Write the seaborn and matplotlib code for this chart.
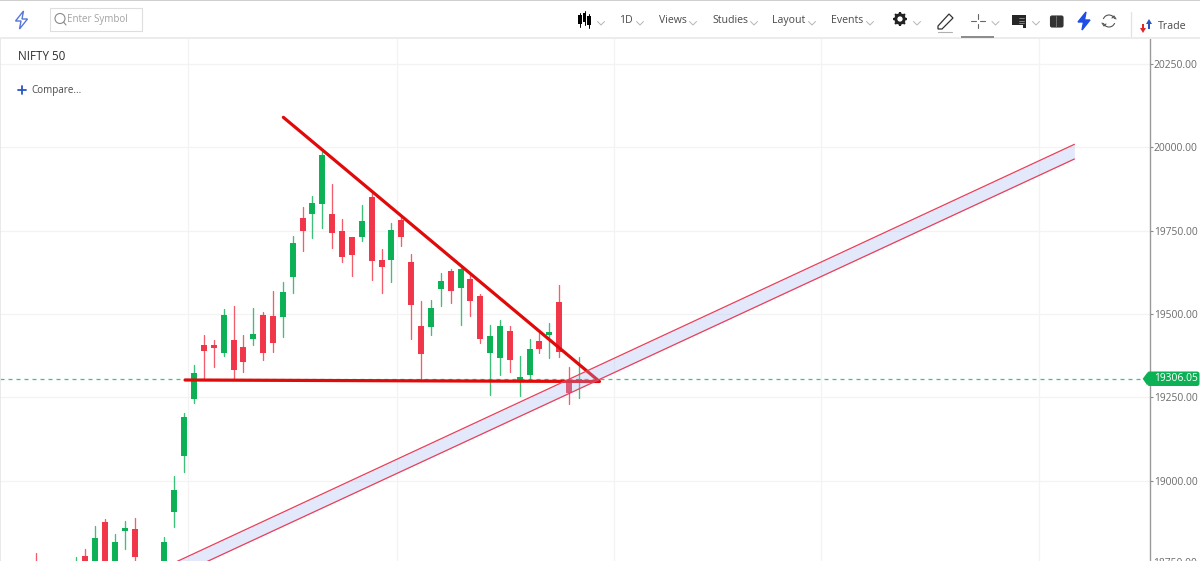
import numpy as np
import pandas as pd
import matplotlib
matplotlib.use("Agg")
import matplotlib.pyplot as plt
from matplotlib.patches import Rectangle, Polygon, FancyBboxPatch, Circle, Arc
import seaborn as sns

# daily candles, index 0 is the first one after the gap up
idx = [-16, -12, -11, -10, -9, -8, -7, -6, -3, -2, -1, 0, 1, 2, 3, 4, 5, 6, 7, 8, 9, 10,
       11, 12, 13, 14, 15, 16, 17, 18, 19, 20, 21, 22, 23, 24, 25, 26, 27, 28, 29, 30,
       31, 32, 33, 34, 35, 36, 37, 38, 39]
opens = [18740, 18700, 18775, 18700, 18875, 18700, 18848, 18855, 18700, 18907, 19075, 19245,
         19408, 19406, 19383, 19423, 19400, 19425, 19498, 19495, 19490, 19610,
         19788, 19800, 19831, 19800, 19748, 19731, 19731, 19851, 19661, 19663, 19783,
         19656, 19465, 19460, 19575, 19628, 19578, 19605, 19555, 19383, 19368, 19450,
         19301, 19318, 19418, 19437, 19536, 19297, 19296]
highs = [18782, 18770, 18795, 18865, 18884, 18841, 18878, 18887, 18830, 19013, 19204, 19347,
         19436, 19423, 19514, 19523, 19436, 19517, 19507, 19569, 19596, 19733,
         19821, 19854, 19987, 19889, 19784, 19732, 19826, 19862, 19696, 19774, 19792,
         19679, 19540, 19541, 19622, 19636, 19638, 19617, 19559, 19466, 19483, 19464,
         19375, 19426, 19444, 19474, 19587, 19342, 19370]
lows = [18690, 18680, 18680, 18680, 18680, 18680, 18794, 18759, 18680, 18862, 19025, 19234,
        19304, 19340, 19374, 19302, 19327, 19408, 19363, 19385, 19432, 19563,
        19690, 19727, 19757, 19699, 19657, 19615, 19718, 19602, 19562, 19597, 19705,
        19425, 19305, 19437, 19525, 19532, 19467, 19495, 19413, 19257, 19317, 19327,
        19255, 19298, 19382, 19367, 19370, 19230, 19249]
closes = [18700, 18740, 18700, 18827, 18700, 18817, 18858, 18770, 18817, 18973, 19190, 19322,
          19388, 19398, 19498, 19331, 19355, 19440, 19382, 19413, 19566, 19713,
          19748, 19833, 19978, 19744, 19671, 19678, 19778, 19659, 19642, 19753, 19731,
          19526, 19380, 19517, 19598, 19568, 19634, 19540, 19425, 19435, 19465, 19362,
          19311, 19395, 19395, 19445, 19386, 19264, 19306.05]

last_price = 19306.05
price_ticks = [20250, 20000, 19750, 19500, 19250, 19000]
month_grid = [-0.6, 20.57, 42.55, 63.5, 85.6]

# hand drawn trend lines
triangle_x = [9.05, 41.08, -0.91]
triangle_y = [20090, 19297.5, 19302]
channel_x = [-4.46, 89.2]
channel_upper = [18720, 20009]
channel_lower = [18678, 19965]

GREEN = "#0CB155"
RED = "#F03648"
TEXT = "#4a4a4a"
GREY = "#6b6b6b"

sns.set_theme(style="white", rc={"axes.edgecolor": "#9a9a9a", "grid.color": "#f3f3f3"})
plt.rcParams["font.family"] = ["Open Sans", "DejaVu Sans"]

W, H = 1200, 561
fig = plt.figure(figsize=(W / 100, H / 100), dpi=100, facecolor="white")
ax = fig.add_axes([0, 0, 1149.7 / W, (H - 38) / H])

df = pd.DataFrame({"idx": idx, "open": opens, "high": highs, "low": lows, "close": closes})
df["side"] = np.where(df["close"] >= df["open"], "up", "down")
palette = {"up": GREEN, "down": RED}

wicks = df.melt(id_vars=["idx", "side"], value_vars=["high", "low"], value_name="price")
bodies = df.melt(id_vars=["idx", "side"], value_vars=["open", "close"], value_name="price")

sns.lineplot(data=wicks, x="idx", y="price", hue="side", units="idx", estimator=None,
             palette=palette, linewidth=0.95, alpha=0.8, legend=False, ax=ax, zorder=2)
sns.lineplot(data=bodies, x="idx", y="price", hue="side", units="idx", estimator=None,
             palette=palette, linewidth=4.3, solid_capstyle="butt", legend=False, ax=ax, zorder=3)

# triangle first, the channel fill sits on top of it
tri = pd.DataFrame({"x": triangle_x, "y": triangle_y})
sns.lineplot(data=tri, x="x", y="y", sort=False, estimator=None, color="#E00A0A",
             linewidth=2.3, ax=ax, zorder=4)

ax.fill_between(channel_x, channel_lower, channel_upper, color="#A4B5F0", alpha=0.3,
                linewidth=0, zorder=5)
for edge in (channel_upper, channel_lower):
    sns.lineplot(x=channel_x, y=edge, color="#E8405A", linewidth=0.9, ax=ax, zorder=6)

ax.axhline(last_price, color="#3FC28A", linewidth=0.9, dashes=(3.2, 3.2), zorder=1)

ax.set_xlim(-19.66, 96.83)
ax.set_ylim(18759, 20328)
ax.set_xticks(month_grid)
ax.set_xticklabels([])
ax.set_yticks(price_ticks)
ax.set_yticklabels([f"{p:.2f}" for p in price_ticks])
ax.yaxis.tick_right()
ax.tick_params(axis="x", length=0)
ax.tick_params(axis="y", length=2.5, width=0.8, color="#8a8a8a", pad=0.5, labelsize=7.4,
               labelcolor=GREY, right=True)
ax.grid(True, linewidth=0.9)
ax.set_axisbelow(True)
ax.set_xlabel("")
ax.set_ylabel("")
for side in ("top", "bottom"):
    ax.spines[side].set_visible(False)
ax.spines["left"].set_color("#e6e6e6")
ax.spines["right"].set_color("#9a9a9a")
ax.spines["right"].set_linewidth(1.0)

# label cut by the bottom edge, like the screenshot
ax.text(1153.5 / 1149.7, 18750, "18750.00", transform=ax.get_yaxis_transform(), fontsize=7.4,
        color=GREY, ha="left", va="center", clip_on=False)

# overlay in pixel coordinates for the toolbar
ui = fig.add_axes([0, 0, 1, 1], facecolor="none")
ui.set_xlim(0, W)
ui.set_ylim(H, 0)
ui.axis("off")

ui.add_patch(Rectangle((0, 0), W, 1.3, color="#cfcfcf", lw=0))
ui.add_patch(Rectangle((0, 37), W, 1.8, color="#ececec", lw=0))
ui.add_patch(Rectangle((961, 36), 33, 2, color="#8d8d8d", lw=0))
ui.plot([1130.5, 1130.5], [12, 36], color="#e2e2e2", lw=0.9)


def chevron(x, y=23.5):
    ui.plot([x - 3.5, x, x + 3.5], [y - 2, y + 1.5, y - 2], color="#b5b5b5", lw=0.7)


def label(x, y, s, size=7.6, color=TEXT, ha="center"):
    ui.text(x, y, s, fontsize=size, color=color, ha=ha, va="center")


def bolt(x, y, color, filled):
    pts = [(x + 2, y - 9), (x - 6, y + 1), (x - 0.5, y + 1), (x - 2, y + 9), (x + 6, y - 1), (x + 0.5, y - 1)]
    ui.add_patch(Polygon(pts, closed=True, facecolor=color if filled else "none", edgecolor=color, lw=1.0))


bolt(21.5, 20, "#5577D8", False)
ui.add_patch(Rectangle((50, 8), 91.5, 23, facecolor="white", edgecolor="#dedede", lw=0.8))
ui.add_patch(Circle((60, 18.5), 5, fill=False, edgecolor="#8a8a8a", lw=0.8))
ui.plot([63.5, 66], [22, 25], color="#8a8a8a", lw=0.8)
label(67, 19.5, "Enter Symbol", size=7.0, color="#a2a2a2", ha="left")

label(17.5, 56, "NIFTY 50", size=8.4, color="#2e2e2e", ha="left")
ui.plot([17.5, 25.5], [90, 90], color="#2A53C4", lw=1.3)
ui.plot([21.5, 21.5], [86, 94], color="#2A53C4", lw=1.3)
label(31, 90.5, "Compare...", size=7.1, ha="left")

# candle icon
for cx, top, bot, wt, wb in [(580, 15, 24, 13, 27), (584.5, 13, 22, 11, 25), (589, 16, 25, 14, 28)]:
    ui.plot([cx, cx], [wt, wb], color="black", lw=0.7)
    ui.add_patch(Rectangle((cx - 1.7, top), 3.4, bot - top, color="black", lw=0))

for x, s in [(626, "1D"), (672.5, "Views"), (730, "Studies"), (789, "Layout"), (847, "Events")]:
    label(x, 20, s)
for x in [601, 640, 693, 754, 812, 870, 917, 995.5, 1036]:
    chevron(x)

# gear
ui.add_patch(Circle((900, 19), 4.2, facecolor="none", edgecolor="#222222", lw=2.2))
for a in np.arange(0, 360, 45):
    r = np.deg2rad(a)
    ui.plot([900 + 5 * np.cos(r), 900 + 7 * np.cos(r)], [19 + 5 * np.sin(r), 19 + 7 * np.sin(r)],
            color="#222222", lw=1.6, solid_capstyle="butt")

# pencil
ui.add_patch(Polygon([(938, 26), (949, 14), (953, 18), (942, 29), (938, 29)], closed=True,
                     facecolor="none", edgecolor="#333333", lw=0.9))
ui.plot([938, 952], [32, 32], color="#b0b0b0", lw=0.8)

# crosshair
for x0, y0, x1, y1 in [(971, 21, 975.5, 21), (980, 21, 984.5, 21), (977.7, 14, 977.7, 18.5), (977.7, 23.5, 977.7, 28)]:
    ui.plot([x0, x1], [y0, y1], color="#666666", lw=0.8)

# news icon
ui.add_patch(Polygon([(1012, 15), (1026, 15), (1026, 28), (1023, 28), (1023, 25), (1012, 25)],
                     closed=True, color="#262626", lw=0))
for y in (18, 20.5, 23):
    ui.plot([1019, 1024], [y, y], color="#aaaaaa", lw=0.5)

# panel icon
ui.add_patch(FancyBboxPatch((1050.5, 16), 12.5, 11, boxstyle="round,pad=0,rounding_size=1.5",
                            facecolor="#333333", edgecolor="#333333", lw=0.8))
ui.plot([1055.5, 1055.5], [16, 27], color="#888888", lw=0.5)

bolt(1084, 21, "#1F4CE6", True)

# refresh
ui.add_patch(Arc((1109, 21), 12, 12, theta1=200, theta2=340, color="#555555", lw=0.8))
ui.add_patch(Arc((1109, 21), 12, 12, theta1=20, theta2=160, color="#555555", lw=0.8))
ui.plot([1102, 1104, 1106], [23, 26, 24], color="#555555", lw=0.8)
ui.plot([1112, 1114, 1116], [18, 16, 19], color="#555555", lw=0.8)

# trade arrows
ui.add_patch(Polygon([(1143, 33), (1140, 28), (1142, 28), (1142, 24), (1144, 24), (1144, 28), (1146, 28)],
                     closed=True, color="#E0262A", lw=0))
ui.add_patch(Polygon([(1149, 19), (1152, 24), (1150, 24), (1150, 29), (1148, 29), (1148, 24), (1146, 24)],
                     closed=True, color="#2A53C4", lw=0))
label(1172, 26, "Trade", size=7.7)

# last price tag
ui.add_patch(Polygon([(1142.7, 378.8), (1147, 373), (1147, 385)], closed=True, color=GREEN, lw=0))
ui.add_patch(FancyBboxPatch((1147, 371.5), 52.5, 14.5, boxstyle="round,pad=0,rounding_size=2.5",
                            facecolor=GREEN, edgecolor=GREEN, lw=0))
label(1176, 378.8, "19306.05", size=7.4, color="white")

fig.savefig("out.png", dpi=100)
plt.close(fig)
